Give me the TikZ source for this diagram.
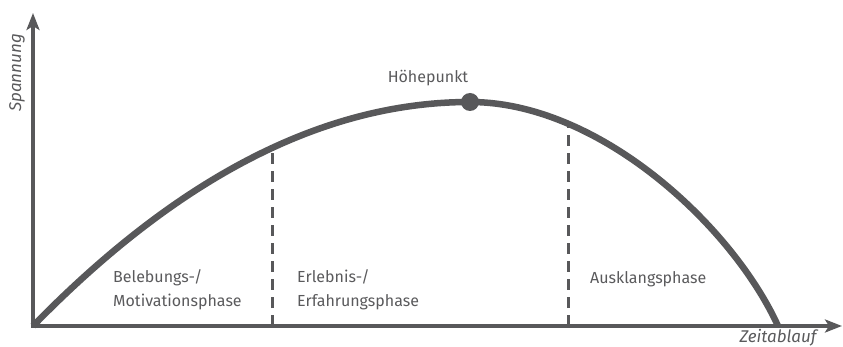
\documentclass[tikz,border=0pt]{standalone}
\usepackage{fontspec}
\setmainfont{Fira Sans}
\usetikzlibrary{arrows.meta}
\definecolor{dg}{HTML}{58585A}
\definecolor{tg}{HTML}{5A5A5C}
\tikzset{
  axis/.style={draw=dg, line width=3.5pt, -{Stealth[length=17pt,width=13pt,inset=4pt]}},
  curve/.style={draw=dg, line width=6.5pt},
  phaseline/.style={draw=dg, line width=3pt, dash pattern=on 11pt off 7pt},
  lbl/.style={text=tg, font=\fontsize{16pt}{24pt}\selectfont, inner sep=0pt},
  axlbl/.style={text=tg, font=\fontsize{17pt}{19pt}\selectfont\itshape, inner sep=0pt},
}
\begin{document}
\begin{tikzpicture}[x=1pt,y=-1pt]
\useasboundingbox (0,0) rectangle (843,347);
\coordinate (O) at (33,326);
\coordinate (ytip) at (33,13);
\coordinate (xtip) at (842,326);
\coordinate (peak) at (470,102);
\coordinate (cend) at (778,326);
\coordinate (d1top) at (272,150);
\coordinate (d1bot) at (272,326);
\coordinate (d2top) at (568,122);
\coordinate (d2bot) at (568,326);
% curve
\draw[curve] (O) .. controls (178.7,176.7) and (324.3,102) .. (peak)
  .. controls (600,102) and (733,227) .. (cend);
% dashed separators
\draw[phaseline] (d1bot) -- (d1top);
\draw[phaseline] (d2bot) -- (d2top);
% axes
\draw[axis] ([xshift=-1.75pt]O) -- (xtip);
\draw[axis] ([yshift=1.75pt]O) -- (ytip);
% peak dot
\fill[dg] (peak) circle (9pt);
% labels
\node[lbl] (hp) at (428,78) {Höhepunkt};
\node[lbl, anchor=west, align=left] (ph1) at (113,290) {Belebungs-/\\Motivationsphase};
\node[lbl, anchor=west, align=left] (ph2) at (297,290) {Erlebnis-/\\Erfahrungsphase};
\node[lbl, anchor=west] (ph3) at (590,279) {Ausklangsphase};
\node[axlbl, rotate=90] (ylab) at (17,73) {Spannung};
\node[axlbl] (xlab) at (778,338) {Zeitablauf};
\end{tikzpicture}
\end{document}
